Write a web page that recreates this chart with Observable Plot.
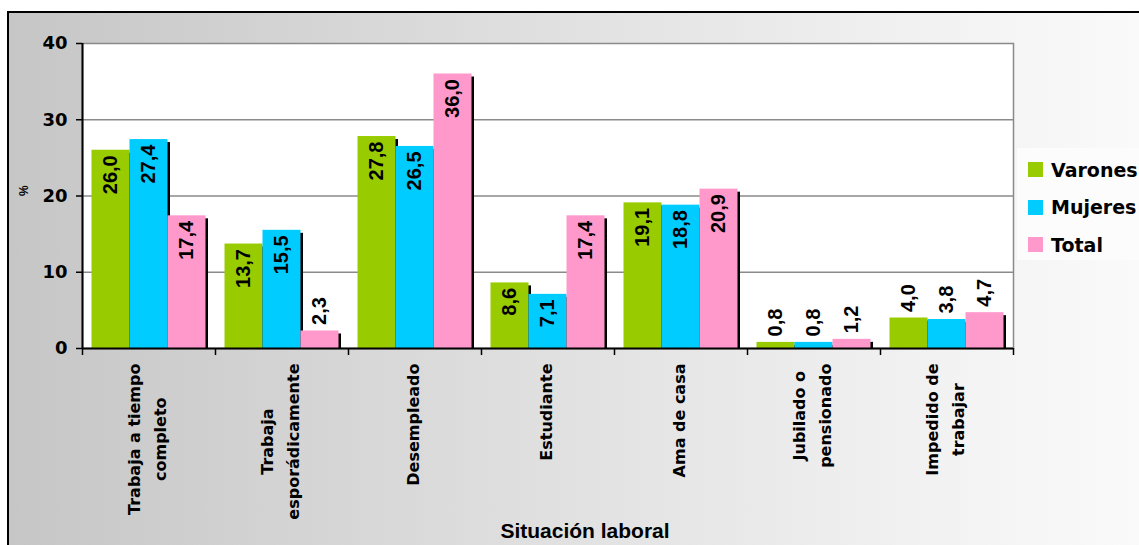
<!DOCTYPE html>
<html><head><meta charset="utf-8">
<script src="https://cdn.jsdelivr.net/npm/d3@7"></script>
<script src="https://cdn.jsdelivr.net/npm/@observablehq/plot@0.6"></script>
<style>
html,body{margin:0;padding:0;background:#fff;}
#wrap{position:relative;width:1139px;height:545px;overflow:hidden;}
#bg{position:absolute;left:7px;top:11px;right:0;bottom:0;border-left:2px solid #000;border-top:2px solid #000;
  background:linear-gradient(to right,#c6c6c6 0%,#dcdcdc 40%,#f1f1f1 80%,#fafafa 100%);}
#chart{position:absolute;left:0;top:0;}
#legend{position:absolute;left:1017px;top:148px;width:122px;height:112px;background:#fcfcfc;
  font-family:"DejaVu Sans",Verdana,sans-serif;font-weight:bold;font-size:19px;color:#000;}
.item{position:absolute;left:11px;display:flex;align-items:center;height:20px;white-space:nowrap;}
.sw{width:15px;height:15px;margin-right:8px;flex:none;}
</style></head><body>
<div id="wrap"><div id="bg"></div><div id="chart"></div><div id="legend"></div></div>
<script>
const categories = ["Trabaja a tiempo completo","Trabaja esporádicamente","Desempleado","Estudiante","Ama de casa","Jubilado o pensionado","Impedido de trabajar"];
const tickLabels = ["Trabaja a tiempo\ncompleto","Trabaja\nesporádicamente","Desempleado","Estudiante","Ama de casa","Jubilado o\npensionado","Impedido de\ntrabajar"];
const series = ["Varones","Mujeres","Total"];
const varones = [26.0,13.7,27.8,8.6,19.1,0.8,4.0];
const mujeres = [27.4,15.5,26.5,7.1,18.8,0.8,3.8];
const total = [17.4,2.3,36.0,17.4,20.9,1.2,4.7];
const colors = ["#99cc00","#00ccff","#ff99cc"];
const yTicks = [0,10,20,30,40];
const xTitle = "Situación laboral";
const yTitle = "%";

const W = 1139, H = 545, mL = 82, mR = 126, mT = 43, mB = 197;
const step = (W - mL - mR) / categories.length;
const pad = 9.5;
const bw = (step - 2 * pad) / series.length;
const values = [varones, mujeres, total];
const rows = series.map((s, i) => categories.map((c, j) => ({cat: c, serie: s, value: values[i][j]})));
const fmt = v => d3.format(".1f")(v).replace(".", ",");
const sans = "'Liberation Sans', Arial, sans-serif";
const dv = "'DejaVu Sans', Verdana, sans-serif";

const marks = [
  Plot.frame({fill: "white", stroke: "#8a8a8a", strokeWidth: 1.5}),
  Plot.ruleY(yTicks.filter(t => t > 0 && t < 40), {stroke: "#8a8a8a", strokeWidth: 1.5})
];
const inset = i => ({insetLeft: pad + i * bw, insetRight: step - pad - (i + 1) * bw});
rows.forEach((r, i) => marks.push(Plot.barY(r, {x: "cat", y: "value", fill: "black", ...inset(i), insetTop: 3, dx: 2.5})));
rows.forEach((r, i) => marks.push(Plot.barY(r, {x: "cat", y: "value", fill: colors[i], ...inset(i)})));
rows.forEach((r, i) => {
  const dx = pad + (i + 0.5) * bw - step / 2;
  const common = {x: "cat", y: "value", text: d => fmt(d.value), rotate: -90, lineAnchor: "middle", dx,
    fontSize: 20, fontFamily: sans, fontWeight: "bold", fill: "black"};
  marks.push(Plot.text(r.filter(d => d.value >= 6), {...common, textAnchor: "end", dy: 5}));
  marks.push(Plot.text(r.filter(d => d.value < 6), {...common, textAnchor: "start", dy: -6}));
});
marks.push(
  Plot.ruleY([0], {stroke: "black", strokeWidth: 2}),
  Plot.ruleX([categories[0]], {x: d => d, y1: 0, y2: 40, dx: -step / 2, stroke: "black", strokeWidth: 2}),
  Plot.ruleX(categories, {x: d => d, y1: 0, y2: 0, insetBottom: -7, dx: -step / 2, stroke: "black", strokeWidth: 1.5}),
  Plot.ruleX(categories.slice(-1), {x: d => d, y1: 0, y2: 0, insetBottom: -7, dx: step / 2, stroke: "black", strokeWidth: 1.5}),
  Plot.axisY({ticks: yTicks, tickSize: 6, tickPadding: 9, tickFormat: d => String(d), label: null,
    fontSize: 18, fontFamily: dv, fontWeight: "bold", stroke: "black", strokeWidth: 1.5}),
  Plot.axisX({tickSize: 0, tickPadding: 15, tickRotate: -90, label: null, dx: -4,
    tickFormat: d => tickLabels[categories.indexOf(d)],
    fontSize: 16, fontFamily: dv, fontWeight: "bold", lineHeight: 1.6, textAnchor: "end", lineAnchor: "middle"}),
  Plot.text([xTitle], {text: d => d, frameAnchor: "bottom", dx: 37, dy: 183, lineAnchor: "middle",
    fontSize: 21, fontFamily: sans, fontWeight: "bold", fill: "black"}),
  Plot.text([yTitle], {text: d => d, frameAnchor: "left", dx: -58.5, rotate: -90, lineAnchor: "middle",
    fontSize: 12, fontFamily: sans, fontWeight: "bold", fill: "black"})
);

const chart = Plot.plot({
  width: W, height: H, marginLeft: mL, marginRight: mR, marginTop: mT, marginBottom: mB,
  x: {type: "band", domain: categories, padding: 0},
  y: {domain: [0, 40]},
  style: {background: "transparent", color: "black", fontFamily: dv, overflow: "visible"},
  marks
});
document.getElementById("chart").appendChild(chart);

// center the lines of multi-line category labels within their block
chart.querySelectorAll('g[aria-label="x-axis tick label"] text').forEach(t => {
  const spans = t.querySelectorAll("tspan");
  if (spans.length > 1) {
    let w = 0;
    spans.forEach(s => { w = Math.max(w, s.getComputedTextLength()); });
    t.setAttribute("text-anchor", "middle");
    spans.forEach(s => s.setAttribute("x", -w / 2));
  }
});

const legend = document.getElementById("legend");
series.forEach((s, i) => {
  const item = document.createElement("div");
  item.className = "item";
  item.style.top = (11.5 + i * 37.5) + "px";
  const sw = document.createElement("div");
  sw.className = "sw";
  sw.style.background = colors[i];
  const lab = document.createElement("span");
  lab.textContent = s;
  item.appendChild(sw); item.appendChild(lab);
  legend.appendChild(item);
});
</script>
</body></html>
